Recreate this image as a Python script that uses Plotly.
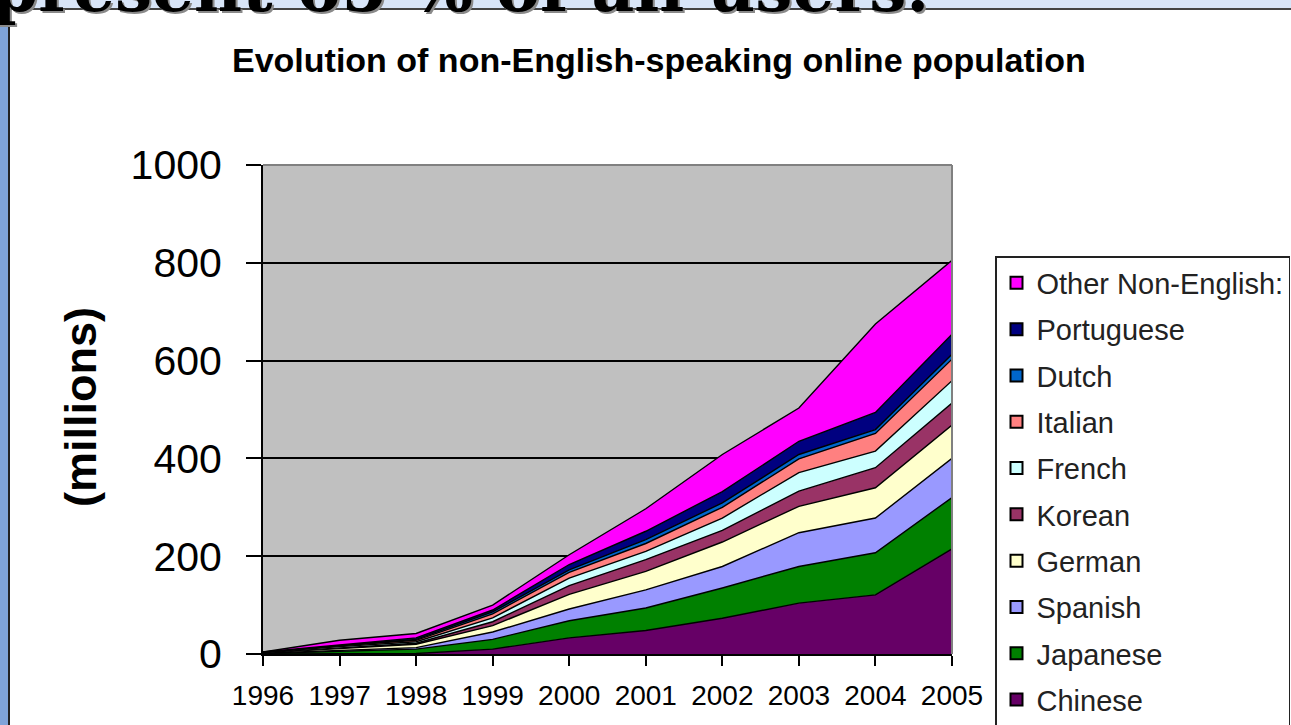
import plotly.graph_objects as go

# ---------------- data (millions) ----------------
years = [1996, 1997, 1998, 1999, 2000, 2001, 2002, 2003, 2004, 2005]
series_names = ["Chinese", "Japanese", "Spanish", "German", "Korean",
                "French", "Italian", "Dutch", "Portuguese", "Other Non-English:"]
chinese    = [0.0, 0.0, 1, 10, 33, 48, 73, 104, 121, 215]
japanese   = [1.0, 5, 9, 20, 35, 46, 62, 75, 86, 105]
spanish    = [0.5, 3, 3, 15, 24, 37, 44, 69, 71, 80]
german     = [1.0, 4, 7, 13, 30, 38, 50, 54, 62, 68]
korean     = [0.3, 1, 2, 8, 18, 24, 24, 31, 41, 45]
french     = [0.5, 2, 3, 8, 15, 17, 25, 38, 34, 46]
italian    = [0.3, 2, 3, 8, 12, 16, 22, 28, 36, 44]
dutch      = [0.2, 1, 2, 4, 5, 8, 9, 9, 8, 10]
portuguese = [0.2, 1, 3, 4, 11, 17, 23, 27, 35, 41]
other      = [0.0, 9, 9, 10, 20, 46, 76, 68, 181, 151]
y_ticks = [0, 200, 400, 600, 800, 1000]

series_values = [chinese, japanese, spanish, german, korean,
                 french, italian, dutch, portuguese, other]
fill_colors = ["#660066", "#008000", "#9999FF", "#FFFFCC", "#993366",
               "#CCFFFF", "#FF8080", "#0066CC", "#000080", "#FF00FF"]

# ---------------- layout geometry ----------------
W, H = 1291, 725
L, R, T, B = 263, 952, 165, 654


def px(x):
    return (x - L) / (R - L)


def py(y):
    return (B - y) / (B - T)


fig = go.Figure()

for name, vals, col in zip(series_names, series_values, fill_colors):
    fig.add_trace(go.Scatter(
        x=years, y=vals, name=name, stackgroup="one", mode="lines",
        line=dict(color="black", width=1.4), fillcolor=col,
        showlegend=False, hoverinfo="x+y+name"))

# legend entries (square symbols), top = Other
for i, (name, col) in enumerate(zip(series_names[::-1], fill_colors[::-1])):
    fig.add_trace(go.Scatter(
        x=[None], y=[None], mode="markers", name=name,
        legendgroup="g%d" % i,
        marker=dict(symbol="square", size=17, color=col,
                    line=dict(color="black", width=1.5))))

shapes = [
    # light blue slide band at top
    dict(type="rect", xref="paper", yref="paper", x0=px(0), x1=px(W),
         y0=py(9), y1=py(0), fillcolor="#D8E5F8", line=dict(width=0), layer="below"),
    # blue textured strip at left
    dict(type="rect", xref="paper", yref="paper", x0=px(0), x1=px(8),
         y0=py(H), y1=py(0), fillcolor="#7FA3D8", line=dict(width=0),
         layer="below"),
    # panel borders
    dict(type="line", xref="paper", yref="paper", x0=px(9), x1=px(9),
         y0=py(H), y1=py(9), line=dict(color="#222222", width=2)),
    dict(type="line", xref="paper", yref="paper", x0=px(9), x1=px(W),
         y0=py(9), y1=py(9), line=dict(color="#444444", width=2)),
    # grey plot-area border top/right
    dict(type="line", xref="paper", yref="paper", x0=0, x1=1, y0=1, y1=1,
         line=dict(color="#808080", width=2), layer="above"),
    dict(type="line", xref="paper", yref="paper", x0=1, x1=1, y0=0, y1=1,
         line=dict(color="#808080", width=2), layer="above"),
]

heading = "present 65 % of all users."
annotations = [
    # cut-off slide heading (shadow then text)
    dict(text=heading, xref="paper", yref="paper",
         x=px(-8), y=py(31), xanchor="left", yanchor="bottom", showarrow=False,
         font=dict(family="DejaVu Serif", size=66, color="#8a8a8a", weight="bold")),
    dict(text=heading, xref="paper", yref="paper",
         x=px(-10), y=py(29), xanchor="left", yanchor="bottom", showarrow=False,
         font=dict(family="DejaVu Serif", size=66, color="black", weight="bold")),
    # chart title
    dict(text="<b>Evolution of non-English-speaking online population</b>",
         xref="paper", yref="paper", x=px(659), y=py(60), xanchor="center",
         yanchor="middle", showarrow=False,
         font=dict(family="Liberation Sans, Arial", size=34, color="black")),
    # y axis title
    dict(text="<b>(millions)</b>", xref="paper", yref="paper", x=px(80), y=py(407),
         xanchor="center", yanchor="middle", textangle=-90, showarrow=False,
         font=dict(family="Liberation Sans, Arial", size=45, color="black")),
]

fig.update_layout(
    width=W, height=H,
    margin=dict(l=L, r=W - R, t=T, b=H - B, pad=0, autoexpand=False),
    paper_bgcolor="white", plot_bgcolor="#C0C0C0",
    shapes=shapes, annotations=annotations,
    showlegend=True,
    legend=dict(x=px(995), y=py(256), xanchor="left", yanchor="top",
                bgcolor="white", bordercolor="#222222", borderwidth=1.5,
                font=dict(family="Liberation Sans, Arial", size=29, color="#222222"),
                tracegroupgap=5.6, itemsizing="constant", traceorder="grouped"),
    xaxis=dict(range=[1996, 2005], tickvals=years, ticktext=[str(y) for y in years],
               tickangle=0,
               showgrid=False, zeroline=False, showline=True, linecolor="black",
               linewidth=2, ticks="outside", ticklen=10, tickwidth=2, tickcolor="black",
               ticklabelstandoff=5,
               tickfont=dict(family="Liberation Sans, Arial", size=28, color="black")),
    yaxis=dict(range=[0, 1000], tickvals=y_ticks, showgrid=True, gridcolor="black",
               gridwidth=1.5, zeroline=False, showline=True, linecolor="black",
               linewidth=2, ticks="outside", ticklen=15, tickwidth=2, tickcolor="black",
               ticklabelstandoff=16,
               tickfont=dict(family="Liberation Sans, Arial", size=41, color="black")),
)

fig.write_html(
    "out.html",
    config={"displayModeBar": False},
    post_script="document.body.style.margin='0';document.body.style.overflow='hidden';")
